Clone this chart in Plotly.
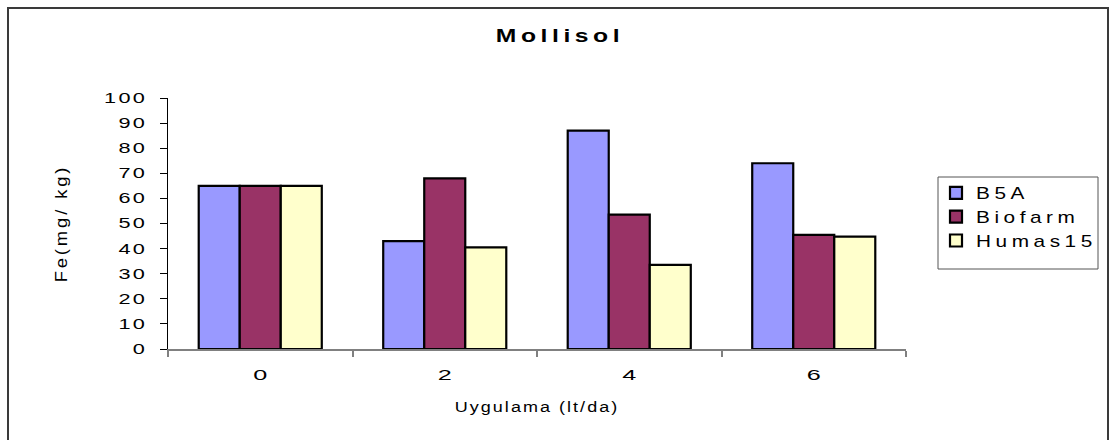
import plotly.graph_objects as go

# Fe content (mg/kg) in Mollisol by application rate (lt/da)
doses = ["0", "2", "4", "6"]
b5a = [65, 43, 87, 74]
biofarm = [65, 68, 53.5, 45.5]
humas15 = [65, 40.5, 33.5, 44.8]

series = [
    ("B5A", b5a, "#9999FF"),
    ("Biofarm", biofarm, "#993366"),
    ("Humas15", humas15, "#FFFFCC"),
]

FONT = "Liberation Sans, Arial, sans-serif"

fig = go.Figure()
for i, (name, vals, color) in enumerate(series):
    fig.add_trace(go.Bar(
        x=doses, y=vals, name=name,
        marker=dict(color=color, line=dict(color="black", width=2.2)),
        legendgroup=f"g{i}",
    ))

# plot-area geometry used to place the frame and legend box in paper units
L, R, T, B = 168, 906, 98, 349
W, H = 1110, 440
def px_x(p):
    return (p - L) / (R - L)
def px_y(p):
    return (B - p) / (B - T)

fig.update_layout(
    width=W, height=H,
    margin=dict(l=L, r=W - R, t=T, b=H - B),
    paper_bgcolor="white", plot_bgcolor="white",
    barmode="group", bargap=0.333, bargroupgap=0,
    font=dict(family=FONT, size=14, color="black"),
    title=dict(text="<b>Mollisol</b>", x=560 / W, xanchor="center",
               y=1 - 35 / H, yanchor="middle",
               font=dict(family=FONT, size=19, color="black")),
    xaxis=dict(
        type="category", tickson="boundaries",
        showline=True, linecolor="#808080", linewidth=1.5,
        ticks="outside", ticklen=6, tickcolor="#808080", tickwidth=1.5,
        ticklabelstandoff=12,
        showgrid=False, zeroline=False,
        title=dict(text="Uygulama (lt/da)", standoff=20,
                   font=dict(family=FONT, size=15)),
    ),
    yaxis=dict(
        range=[0, 100], dtick=10, tick0=0,
        showline=True, linecolor="black", linewidth=1,
        ticks="outside", ticklen=7, tickcolor="black", tickwidth=1,
        ticklabelstandoff=10,
        showgrid=False, zeroline=False,
        title=dict(text="Fe(mg/ kg)", standoff=52,
                   font=dict(family=FONT, size=16)),
    ),
    legend=dict(
        x=px_x(936), y=px_y(176), xanchor="left", yanchor="top",
        bgcolor="rgba(0,0,0,0)", borderwidth=0,
        font=dict(family=FONT, size=16, color="black"),
        tracegroupgap=14, traceorder="normal",
    ),
    shapes=[
        # legend frame
        dict(type="rect", xref="paper", yref="paper",
             x0=px_x(938), x1=px_x(1098), y0=px_y(269), y1=px_y(177),
             line=dict(color="#555555", width=1), fillcolor="rgba(0,0,0,0)"),
        # chart frame
        dict(type="rect", xref="paper", yref="paper",
             x0=px_x(8), x1=px_x(1108), y0=px_y(450), y1=px_y(8),
             line=dict(color="#3a3a3a", width=2), fillcolor="rgba(0,0,0,0)"),
    ],
)

# wide, loosely tracked lettering: stretch each text horizontally about its anchor
post = """
var gd = document.getElementById('{plot_id}');
function widen(sel, k, s) {
  gd.querySelectorAll(sel).forEach(function (t) {
    if (s) t.style.letterSpacing = s + 'px';
    var b = t.getBBox();
    var a = window.getComputedStyle(t).textAnchor || t.getAttribute('text-anchor') || 'start';
    var ax = a === 'end' ? b.x + b.width : (a === 'middle' ? b.x + b.width / 2 : b.x);
    var tr = t.getAttribute('transform') || '';
    t.setAttribute('transform', tr + ' translate(' + ax + ',0) scale(' + k + ',1) translate(' + (-ax) + ',0)');
  });
}
widen('.gtitle', 1.3, 3.5);
widen('.ytick text', 1.55, 1.5);
widen('.xtick text', 1.8, 0);
widen('.legendtext', 1.3, 3.5);
widen('.ytitle', 1.15, 2.5);
widen('.xtitle', 1.2, 1.7);
gd.querySelectorAll('.legend [clip-path]').forEach(function (e) { e.removeAttribute('clip-path'); });
"""

fig.write_html("out.html", post_script=post)
